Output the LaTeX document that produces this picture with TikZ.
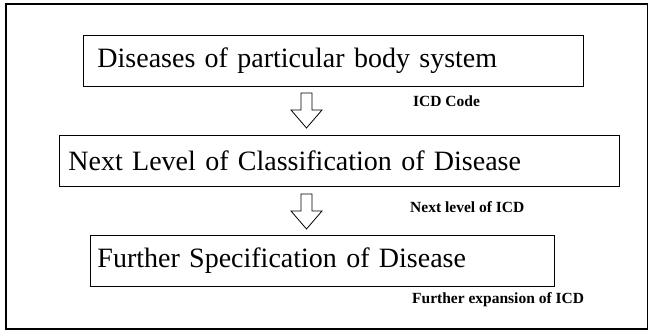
\documentclass[tikz,border=0pt]{standalone}
\usepackage{fontspec}
\setmainfont{Liberation Serif}
\begin{document}
\begin{tikzpicture}[x=1pt,y=-1pt,
    level/.style={draw,line width=0.9pt,anchor=north west,inner xsep=#1,inner ysep=0pt,
      align=left,font=\fontsize{28}{30}\selectfont},
    note/.style={anchor=west,inner sep=0pt,font=\fontsize{15.5}{17}\selectfont\bfseries},
    downarrow/.pic={
      \draw[line width=0.8pt,line join=miter]
        (-5.5,0) -- (-5.5,17) -- (-15.5,17) -- (0,35) -- (15.5,17) -- (5.5,17) -- (5.5,0) -- cycle;
    }]
      \useasboundingbox (0,0) rectangle (649,331);
      \draw[line width=1.3pt] (6,4) rectangle (647.5,329);
      \draw
        (83,35) node[level=14pt,text width=472pt,minimum height=51pt] (b1){Diseases of particular body system}
        (59,135) node[level=9pt,text width=542pt,minimum height=51pt] (b2){Next Level of Classification of Disease}
        (90,235) node[level=7pt,text width=450pt,minimum height=51pt] (b3){Further Specification of Disease};
      \begin{scope}
        \pic (a1) at (306.5,93) {downarrow};
        \pic (a2) at (306.5,194) {downarrow};
      \end{scope}
      \draw
        (413,101) node[note] (n1){ICD Code}
        (410,207) node[note] (n2){Next level of ICD}
        (412,300) node[note] (n3){Further expansion of ICD};
    \end{tikzpicture}
\end{document}
